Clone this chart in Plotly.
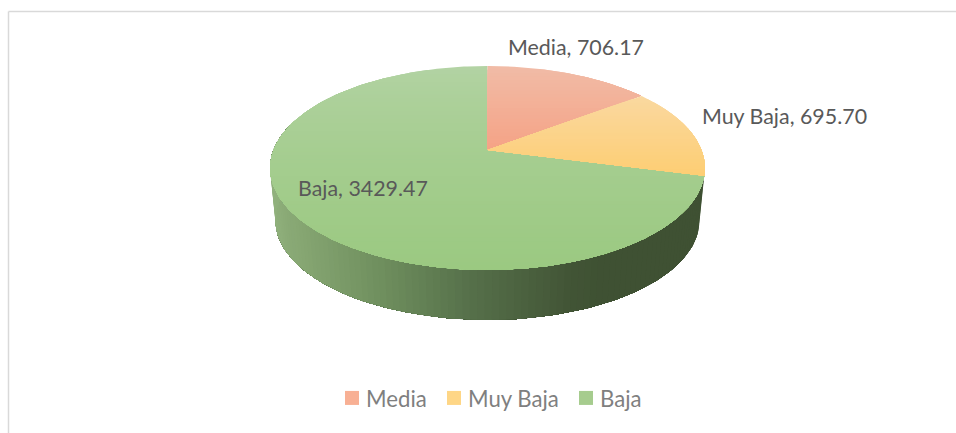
import numpy as np
import plotly.graph_objects as go

# ---- data ----
categories = ["Media", "Muy Baja", "Baja"]
values = [706.17, 695.70, 3429.47]
label_format = "{}, {:.2f}"

# ---- style ----
top_colors = {"Media": ("#f1bba6", "#f5a386"),
              "Muy Baja": ("#fad89f", "#fdce74"),
              "Baja": ("#b3d3a4", "#9bc981")}
legend_colors = ["#f8b094", "#fed686", "#a6cc8e"]
FONT = "Lato"
LEGEND_SIZE = 22.2
LABEL_SIZE = 21.4

# ---- projection of the tilted disc (perspective ellipse) ----
W, H = 956, 433
CX, CY = 487.5, 150.0
HALF_W, HALF_H, PERSP = 214.0, 98.8, 0.176
DEPTH, BOTTOM_SCALE = 53.0, 0.975


def project(theta, scale=1.0, dy=0.0):
    u, v = np.sin(theta), np.cos(theta)
    d = 1 + PERSP * v
    return CX + scale * HALF_W * u / d, CY + dy - scale * HALF_H * v / d


def clip_below(pts, y0):
    """Keep the part of a polygon with y >= y0."""
    out = []
    n = len(pts)
    for i in range(n):
        a, b = pts[i], pts[(i + 1) % n]
        ina, inb = a[1] >= y0, b[1] >= y0
        if ina:
            out.append(a)
        if ina != inb:
            t = (y0 - a[1]) / (b[1] - a[1])
            out.append((a[0] + t * (b[0] - a[0]), y0))
    return out


def hex_rgb(c):
    return np.array([int(c[i:i + 2], 16) for i in (1, 3, 5)], float)


def mix(c0, c1, t):
    r = hex_rgb(c0) * (1 - t) + hex_rgb(c1) * t
    return "rgb({:.0f},{:.0f},{:.0f})".format(*r)


fig = go.Figure()


def poly(xs, ys, color):
    fig.add_trace(go.Scatter(x=xs, y=ys, mode="lines", fill="toself", fillcolor=color,
                             line=dict(color=color, width=0), hoverinfo="skip",
                             showlegend=False))


fractions = np.array(values) / sum(values)
edges = np.concatenate([[0], np.cumsum(fractions)]) * 2 * np.pi

# side wall of the last slice, shaded from left to right; each piece covers
# everything still to come, so later pieces paint over it without seams
wall_x = [272, 285, 380, 470, 570, 600, 710]
wall_c = ["#90b07c", "#8aaa76", "#6f8f5e", "#56704a", "#425536", "#3f5133", "#3f5133"]
wall_t = np.linspace(edges[2], np.deg2rad(285), 110)
for k in range(len(wall_t) - 1):
    rest = wall_t[k:]
    x_top, y_top = project(rest)
    x_bot, y_bot = project(rest[::-1], BOTTOM_SCALE, DEPTH)
    xm = (x_top[0] + x_top[1]) / 2
    i = int(np.clip(np.searchsorted(wall_x, xm) - 1, 0, len(wall_x) - 2))
    f = (xm - wall_x[i]) / (wall_x[i + 1] - wall_x[i])
    poly(list(x_top) + list(x_bot) + [x_top[0]], list(y_top) + list(y_bot) + [y_top[0]],
         mix(wall_c[i], wall_c[i + 1], f))

# top surface: each slice painted in bands for a vertical gradient
order = [2, 0, 1]
for idx in order:
    name = categories[idx]
    t = np.linspace(edges[idx], edges[idx + 1], 240)
    xs, ys = project(t)
    pts = [(CX, CY)] + list(zip(xs, ys))
    ymin, ymax = min(p[1] for p in pts), max(p[1] for p in pts)
    nb = 50 if idx == 2 else 24
    c0, c1 = top_colors[name]
    for k in range(nb):
        y0 = ymin + (ymax - ymin) * k / nb
        p = clip_below(pts, y0) if k else pts
        if len(p) < 3:
            continue
        px = [q[0] for q in p] + [p[0][0]]
        py = [q[1] for q in p] + [p[0][1]]
        f = k / (nb - 1)
        poly(px, py, mix(c0, c1, f ** 0.7 if idx == 2 else f))

# legend entries: one legend per entry, so that the gaps can follow the picture
legend_text_x = [366, 468, 600]
legend_y = 398
legend_layout = {}
for n, (name, col, tx) in enumerate(zip(categories, legend_colors, legend_text_x)):
    key = "legend" if n == 0 else f"legend{n + 1}"
    fig.add_trace(go.Scatter(x=[None], y=[None], mode="markers", name=name, legend=key,
                             marker=dict(symbol="square", size=14, color=col)))
    legend_layout[key] = dict(orientation="h", x=(tx - 40) / W, xanchor="left",
                              y=1 - legend_y / H, yanchor="middle",
                              font=dict(family=FONT, size=LEGEND_SIZE, color="#7f7f7f"),
                              bgcolor="rgba(0,0,0,0)", itemclick=False, itemdoubleclick=False)

# data labels
label_pos = [(509, 47), (703, 116), (299, 188)]
for name, val, (lx, ly) in zip(categories, values, label_pos):
    fig.add_annotation(x=lx, y=ly, text=label_format.format(name, val), showarrow=False,
                       xanchor="left", yanchor="middle", xshift=-3,
                       font=dict(family=FONT, size=LABEL_SIZE, color="#595959"))

fig.update_layout(
    width=W, height=H, margin=dict(l=0, r=0, t=0, b=0),
    paper_bgcolor="white", plot_bgcolor="white",
    xaxis=dict(range=[0, W], visible=False, fixedrange=True),
    yaxis=dict(range=[H, 0], visible=False, fixedrange=True),
    shapes=[
        dict(type="line", x0=8.5, x1=8.5, y0=11.5, y1=H, line=dict(color="#d9d9d9", width=1.5)),
        dict(type="line", x0=8.5, x1=W, y0=11.5, y1=11.5, line=dict(color="#d9d9d9", width=1.5)),
    ],
    **legend_layout,
)

fig.write_html(
    "out.html", config=dict(displayModeBar=False),
    post_script=(
        "document.body.style.margin='0';document.body.style.overflow='hidden';"
        "document.querySelectorAll('g.traces .layers')"
        ".forEach(function(g){g.setAttribute('transform','translate(6,0)');});"
    ),
)
